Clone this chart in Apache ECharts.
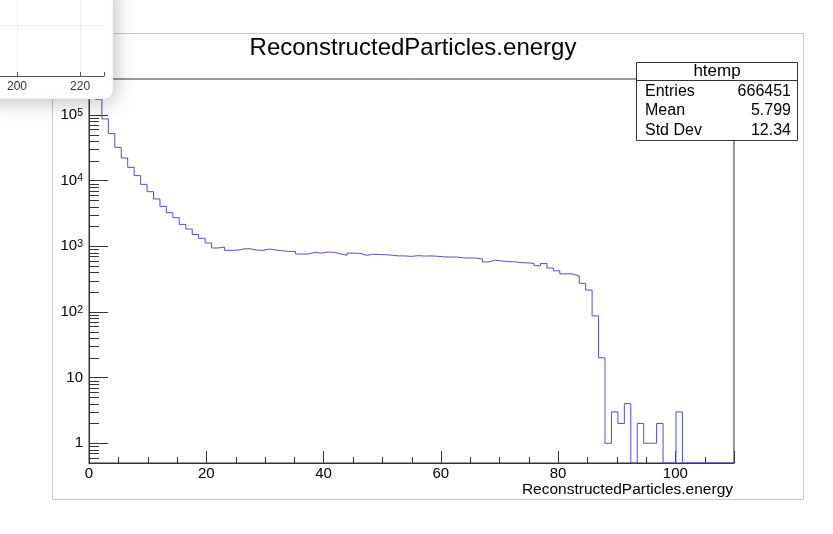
<!DOCTYPE html>
<html>
<head>
<meta charset="utf-8">
<title>ReconstructedParticles.energy</title>
<script src="https://cdn.jsdelivr.net/npm/echarts@6.0.0/dist/echarts.min.js"></script>
<style>
    html, body { margin: 0; padding: 0; background: #fff; }
    #main { width: 833px; height: 534px; }
</style>
</head>
<body>
<div id="main"></div>
<script>
// htemp : 100 bins between 0 and 110
var xMin = 0;
var xMax = 110;
var yMin = 0.5;
var yMax = 352000;

var counts = [
    200000, 172000, 86900, 51900, 32000, 22100, 15900, 11900, 8750, 6770,
    5250, 4040, 3240, 2720, 2150, 1830, 1510, 1320, 1120, 940,
    970, 865, 870, 910, 915, 875, 865, 905, 875, 850,
    835, 830, 760, 760, 805, 785, 812, 810, 765, 728,
    785, 780, 728, 752, 748, 742, 730, 712, 712, 700,
    718, 708, 712, 705, 688, 684, 684, 665, 662, 660,
    640, 576, 614, 596, 582, 580, 562, 558, 547, 505,
    545, 466, 422, 380, 378, 353, 272, 215, 87, 20,
    1, 3, 2, 4, 0, 2, 1, 1, 2, 0,
    0, 3, 0, 0, 0, 0, 0, 0, 0, 0
];

var xTicks = [0, 20, 40, 60, 80, 100];
var yDecades = [1, 10, 100, 1000, 10000, 100000];

var statsNames = ['Entries', 'Mean', 'Std Dev'];
var statsValues = ['666451', '5.799', '12.34'];

// the window that sits over the top left corner
var popupTicks = [200, 220];

var font = '"Liberation Sans", Arial, Helvetica, sans-serif';
var lineColor = '#4f4fd0';
var axisColor = '#333';

var binWidth = (xMax - xMin) / counts.length;

var steps = [];
for (var i = 0; i < counts.length; i++) {
    steps.push([xMin + i * binWidth, counts[i] > 0 ? counts[i] : yMin]);
}
steps.push([xMax, counts[counts.length - 1] > 0 ? counts[counts.length - 1] : yMin]);

// minor ticks: every 5 on x, 2..9 of each decade on y
var minorTicks = [];
for (var x = 5; x < xMax; x += 5) {
    if (x % 20 !== 0) minorTicks.push([x, yMin, 1]);
}
for (var e = -1; e <= 5; e++) {
    for (var k = 2; k <= 9; k++) {
        var v = k * Math.pow(10, e);
        if (v > yMin && v < yMax) minorTicks.push([xMin, v, 0]);
    }
}

var isIn = function (list, v) {
    for (var j = 0; j < list.length; j++) {
        if (Math.abs(list[j] - v) <= 1e-6 * Math.max(1, list[j])) return true;
    }
    return false;
};

var yLabel = function (v) {
    if (!isIn(yDecades, v)) return '';
    var p = Math.round(Math.log(v) / Math.LN10);
    if (p === 0) return '{n|1}';
    if (p === 1) return '{n|10}';
    return '{b|10}{sup|' + p + '}';
};

var chart = echarts.init(document.getElementById('main'));
var option = {
    animation: false,
    backgroundColor: '#fff',
    textStyle: { fontFamily: font },
    grid: [{
        left: 89, right: 99, top: 79, bottom: 71,
        show: true,
        borderColor: axisColor,
        borderWidth: 1,
        containLabel: false,
        outerBoundsMode: 'none'
    }, {
        left: -46, top: -26, width: 150, height: 102,
        show: false,
        containLabel: false,
        outerBoundsMode: 'none'
    }],
    xAxis: [{
        gridIndex: 0,
        type: 'value',
        position: 'bottom',
        min: xMin,
        max: xMax,
        interval: 20,
        axisLine: { lineStyle: { color: axisColor, width: 1 } },
        axisTick: { inside: true, length: 12, lineStyle: { color: axisColor } },
        axisLabel: {
            margin: 3,
            fontSize: 15,
            color: '#000',
            fontFamily: font,
            formatter: function (v) { return isIn(xTicks, v) ? String(v) : ''; }
        },
        splitLine: { show: false },
        name: 'ReconstructedParticles.energy',
        nameLocation: 'end',
        nameGap: 0,
        nameTextStyle: {
            fontSize: 15.5,
            color: '#000',
            fontFamily: font,
            align: 'right',
            verticalAlign: 'top',
            padding: [19, 1, 0, 0]
        }
    }, {
        gridIndex: 1,
        type: 'value',
        position: 'bottom',
        min: 180,
        max: 227.6,
        interval: 20,
        z: 101,
        axisLine: { lineStyle: { color: '#555', width: 1 } },
        axisTick: { inside: true, length: 4, lineStyle: { color: '#555' } },
        axisLabel: {
            margin: 5,
            fontSize: 12,
            color: '#333',
            formatter: function (v) { return isIn(popupTicks, v) ? String(v) : ''; }
        },
        splitLine: { show: true, showMaxLine: false, lineStyle: { color: '#eeeeee' } }
    }],
    yAxis: [{
        gridIndex: 0,
        type: 'log',
        logBase: 10,
        min: yMin,
        max: yMax,
        axisLine: { show: true, lineStyle: { color: axisColor, width: 1 } },
        axisTick: { show: true, inside: true, length: 19, lineStyle: { color: axisColor } },
        axisLabel: {
            margin: 6,
            color: '#000',
            formatter: yLabel,
            rich: {
                n: { fontSize: 15, lineHeight: 15, fontFamily: font, color: '#000' },
                b: { fontSize: 15, lineHeight: 15, padding: [5, 0, 0, 0], verticalAlign: 'bottom', fontFamily: font, color: '#000' },
                sup: { fontSize: 10.5, lineHeight: 14, verticalAlign: 'top', fontFamily: font, color: '#000' }
            }
        },
        splitLine: { show: false }
    }, {
        gridIndex: 1,
        type: 'value',
        min: 0,
        max: 2,
        interval: 1,
        z: 101,
        axisLine: { show: false },
        axisTick: { show: false },
        axisLabel: { show: false },
        splitLine: { show: true, showMaxLine: false, lineStyle: { color: '#eeeeee' } }
    }],
    series: [{
        name: 'htemp',
        type: 'line',
        xAxisIndex: 0,
        yAxisIndex: 0,
        step: 'end',
        symbol: 'none',
        clip: true,
        z: 3,
        lineStyle: { color: lineColor, width: 1 },
        data: steps
    }, {
        name: 'minor ticks',
        type: 'custom',
        xAxisIndex: 0,
        yAxisIndex: 0,
        silent: true,
        z: 4,
        encode: { x: 0, y: 1 },
        renderItem: function (params, api) {
            var p = api.coord([api.value(0), api.value(1)]);
            var onY = api.value(2) === 0;
            var px = Math.round(p[0]) + (onY ? 0 : 0.5);
            var py = Math.round(p[1]) + (onY ? 0.5 : 0);
            return {
                type: 'line',
                shape: onY ? { x1: px, y1: py, x2: px + 10, y2: py } : { x1: px, y1: py, x2: px, y2: py - 6 },
                style: { stroke: axisColor, lineWidth: 1 }
            };
        },
        data: minorTicks
    }],
    graphic: [{
        // pad border
        type: 'rect',
        z: 0,
        silent: true,
        shape: { x: 52.5, y: 33.5, width: 751, height: 466 },
        style: { fill: 'none', stroke: '#c8c8c8', lineWidth: 1 }
    }, {
        type: 'text',
        z: 5,
        x: 413,
        y: 48,
        style: {
            text: 'ReconstructedParticles.energy',
            fontSize: 24,
            fontFamily: font,
            fill: '#000',
            align: 'center',
            verticalAlign: 'middle'
        }
    }, {
        // stats box
        type: 'group',
        z: 10,
        children: [{
            type: 'rect',
            z: 10,
            shape: { x: 636.5, y: 62.5, width: 161, height: 78 },
            style: { fill: '#fff', stroke: axisColor, lineWidth: 1 }
        }, {
            type: 'line',
            z: 11,
            shape: { x1: 636.5, y1: 80.5, x2: 797.5, y2: 80.5 },
            style: { stroke: axisColor, lineWidth: 1 }
        }, {
            type: 'text',
            z: 11,
            x: 717,
            y: 71,
            style: { text: 'htemp', fontSize: 17, fontFamily: font, fill: '#000', align: 'center', verticalAlign: 'middle' }
        }].concat(statsNames.map(function (name, idx) {
            return {
                type: 'text',
                z: 11,
                x: 645,
                y: 91.5 + idx * 19.5,
                style: { text: name, fontSize: 16, fontFamily: font, fill: '#000', align: 'left', verticalAlign: 'middle' }
            };
        })).concat(statsValues.map(function (val, idx) {
            return {
                type: 'text',
                z: 11,
                x: 791,
                y: 91.5 + idx * 19.5,
                style: { text: val, fontSize: 16, fontFamily: font, fill: '#000', align: 'right', verticalAlign: 'middle' }
            };
        }))
    }, {
        // overlapping window
        type: 'rect',
        z: 100,
        silent: true,
        shape: { x: -20, y: -20, width: 133, height: 119, r: 9 },
        style: {
            fill: '#fff',
            stroke: '#dddddd',
            lineWidth: 0.5,
            shadowBlur: 20,
            shadowColor: 'rgba(0, 0, 0, 0.25)',
            shadowOffsetX: 2,
            shadowOffsetY: 3
        }
    }]
};
chart.setOption(option);
</script>
</body>
</html>
